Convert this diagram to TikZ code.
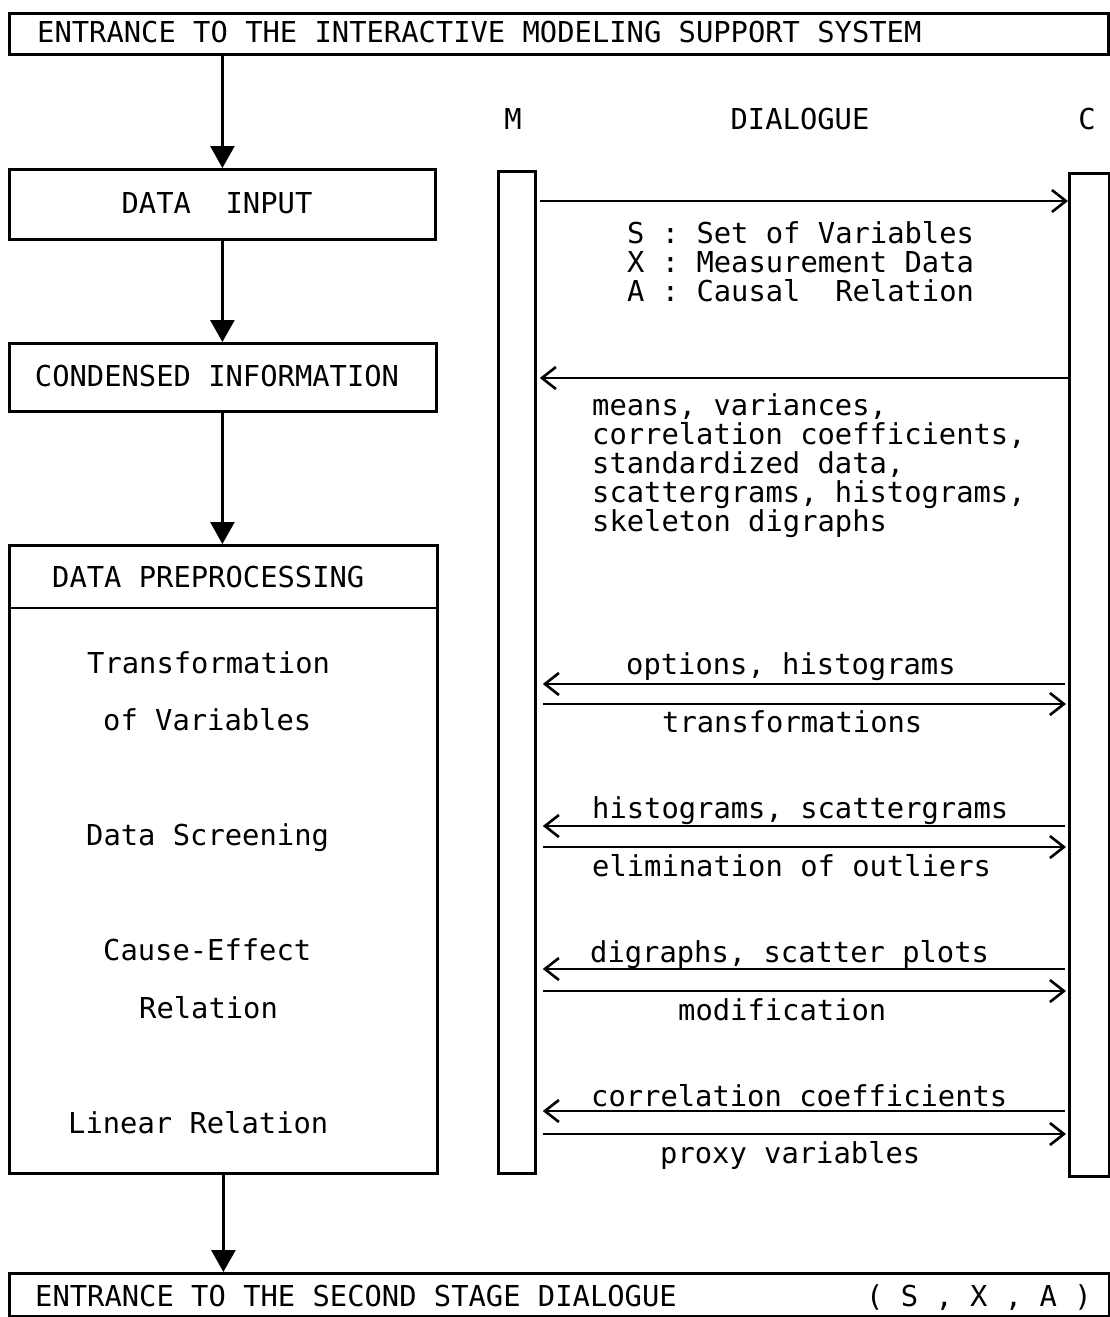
\documentclass[tikz,border=0pt]{standalone}
\usepackage{fontspec}
\setmonofont{DejaVu Sans Mono}
\usetikzlibrary{arrows.meta}
\begin{document}
\begin{tikzpicture}[x=1pt,y=-1pt,
  box/.style={draw, line width=2.8pt, inner sep=0pt},
  txt/.style={font=\ttfamily\fontsize{28.8}{29}\selectfont, inner sep=0pt, text height=21pt, text depth=0pt},
  flow/.style={line width=2.8pt, -{Triangle[width=24pt,length=22pt]}},
  msg/.style={line width=2.6pt, -{Straight Barb[width=22pt,length=14pt,line width=2.6pt]}}]
\useasboundingbox[fill=white] (0,0) rectangle (1110,1317);
% left column boxes
\node[box, anchor=north west, minimum width=1099pt, minimum height=41pt] (top) at (8,12) {};
\node[txt, anchor=west] (toptxt) at (37,32) {ENTRANCE TO THE INTERACTIVE MODELING SUPPORT SYSTEM};
\node[box, anchor=north west, minimum width=426pt, minimum height=70pt] (din) at (8,168) {};
\node[txt] (dintxt) at (217,203) {DATA\ \ INPUT};
\node[box, anchor=north west, minimum width=427pt, minimum height=68pt] (cond) at (8,342) {};
\node[txt] (condtxt) at (217,376) {CONDENSED INFORMATION};
\node[box, anchor=north west, minimum width=428pt, minimum height=628pt] (prep) at (8,544) {};
\coordinate (sepL) at (8,608);
\coordinate (sepR) at (436,608);
\draw[line width=2.8pt] (sepL) -- (sepR);
\node[txt, anchor=west] (preptxt) at (52,577) {DATA PREPROCESSING};
\node[txt, anchor=west] (t1) at (87,663) {Transformation};
\node[txt, anchor=west] (t2) at (103,720) {of Variables};
\node[txt, anchor=west] (t3) at (86,835) {Data Screening};
\node[txt, anchor=west] (t4) at (103,950) {Cause-Effect};
\node[txt, anchor=west] (t5) at (139,1008) {Relation};
\node[txt, anchor=west] (t6) at (68,1123) {Linear Relation};
\node[box, anchor=north west, minimum width=1100pt, minimum height=43pt] (bot) at (8,1272) {};
\node[txt, anchor=west] (bottxt) at (35,1296) {ENTRANCE TO THE SECOND STAGE DIALOGUE};
\node[txt, anchor=west] (bottxt2) at (866,1296) {( S , X , A )};
% flow arrows
\draw[flow] (top.south -| din.north) -- (din.north);
\draw[flow] (din.south) -- (cond.north -| din.south);
\draw[flow] (cond.south -| din.south) -- (prep.north -| din.south);
\draw[flow] (prep.south) -- (bot.north -| prep.south);
% dialogue
\node[txt] (mlab) at (513,119) {M};
\node[txt] (dlab) at (800,119) {DIALOGUE};
\node[txt] (clab) at (1087,119) {C};
\node[box, anchor=north west, minimum width=37pt, minimum height=1002pt] (mbar) at (497,170) {};
\node[box, anchor=north west, minimum width=40pt, minimum height=1003pt] (cbar) at (1068,172) {};
\draw[msg, shorten <=3pt] (mbar.east |- 0,201) -- (cbar.west |- 0,201);
\node[txt, anchor=west] (s1) at (627,233) {S : Set of Variables};
\node[txt, anchor=west] (s2) at (627,262) {X : Measurement Data};
\node[txt, anchor=west] (s3) at (627,291) {A : Causal\ \ Relation};
\draw[msg, shorten >=3pt] (cbar.west |- 0,378) -- (mbar.east |- 0,378);
\node[txt, anchor=west] (r1) at (592,405) {means, variances,};
\node[txt, anchor=west] (r2) at (592,434) {correlation coefficients,};
\node[txt, anchor=west] (r3) at (592,463) {standardized data,};
\node[txt, anchor=west] (r4) at (592,492) {scattergrams, histograms,};
\node[txt, anchor=west] (r5) at (592,521) {skeleton digraphs};
% transformation
\node[txt, anchor=west] (a1) at (626,664) {options, histograms};
\draw[msg, shorten <=3pt, shorten >=6pt] (cbar.west |- 0,684) -- (mbar.east |- 0,684);
\draw[msg, shorten <=6pt, shorten >=2pt] (mbar.east |- 0,704) -- (cbar.west |- 0,704);
\node[txt, anchor=west] (a2) at (662,722) {transformations};
% screening
\node[txt, anchor=west] (b1) at (592,808) {histograms, scattergrams};
\draw[msg, shorten <=3pt, shorten >=6pt] (cbar.west |- 0,826) -- (mbar.east |- 0,826);
\draw[msg, shorten <=6pt, shorten >=2pt] (mbar.east |- 0,847) -- (cbar.west |- 0,847);
\node[txt, anchor=west] (b2) at (592,866) {elimination of outliers};
% cause-effect
\node[txt, anchor=west] (c1) at (590,952) {digraphs, scatter plots};
\draw[msg, shorten <=3pt, shorten >=6pt] (cbar.west |- 0,969) -- (mbar.east |- 0,969);
\draw[msg, shorten <=6pt, shorten >=2pt] (mbar.east |- 0,991) -- (cbar.west |- 0,991);
\node[txt, anchor=west] (c2) at (678,1010) {modification};
% linear
\node[txt, anchor=west] (d1) at (591,1096) {correlation coefficients};
\draw[msg, shorten <=3pt, shorten >=6pt] (cbar.west |- 0,1111) -- (mbar.east |- 0,1111);
\draw[msg, shorten <=6pt, shorten >=2pt] (mbar.east |- 0,1134) -- (cbar.west |- 0,1134);
\node[txt, anchor=west] (d2) at (660,1153) {proxy variables};
\end{tikzpicture}
\end{document}
